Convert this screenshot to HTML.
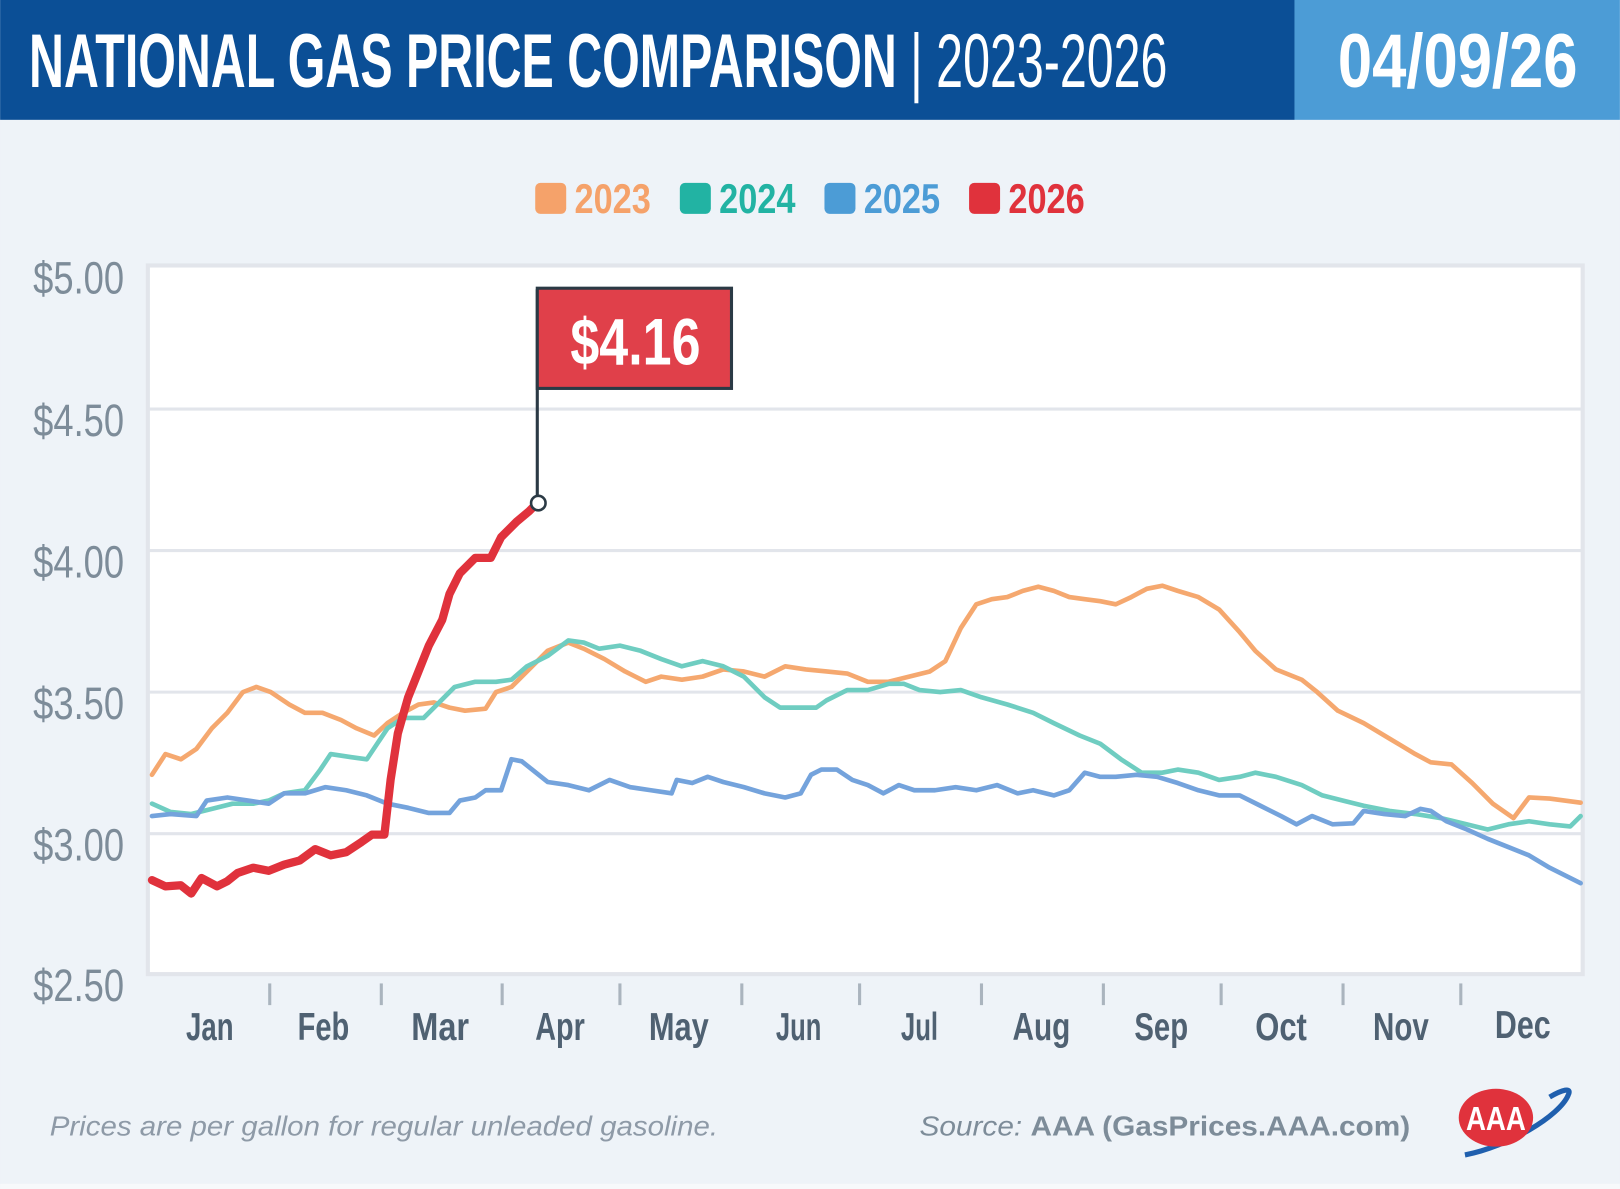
<!DOCTYPE html>
<html><head><meta charset="utf-8"><style>html,body{margin:0;padding:0;background:#eef3f8}svg{display:block}</style></head><body>
<svg width="1620" height="1189" viewBox="0 0 1568 1151" xmlns="http://www.w3.org/2000/svg" font-family="Liberation Sans, sans-serif">
<rect x="0" y="0" width="1568" height="1151" fill="#eef3f8"/>
<rect x="0" y="1146" width="1568" height="5" fill="#f7f9fb"/>
<rect x="0" y="0" width="1253" height="116" fill="#0b4f96"/>
<rect x="1253" y="0" width="315" height="116" fill="#4c9cd6"/>
<text x="28" y="84" font-size="74" fill="#fff" font-weight="bold" textLength="1102" lengthAdjust="spacingAndGlyphs">NATIONAL GAS PRICE COMPARISON <tspan font-weight="normal">| 2023-2026</tspan></text>
<text x="1295" y="84" font-size="74" fill="#fff" font-weight="bold" textLength="232" lengthAdjust="spacingAndGlyphs">04/09/26</text>
<g font-size="40" font-weight="bold">
<rect x="518" y="177" width="30" height="30" rx="5" fill="#f5a26a"/><text x="556" y="206" fill="#f5a26a" textLength="74" lengthAdjust="spacingAndGlyphs">2023</text>
<rect x="658" y="177" width="30" height="30" rx="5" fill="#22b3a3"/><text x="696" y="206" fill="#22b3a3" textLength="74" lengthAdjust="spacingAndGlyphs">2024</text>
<rect x="798" y="177" width="30" height="30" rx="5" fill="#4c9cd6"/><text x="836" y="206" fill="#4c9cd6" textLength="74" lengthAdjust="spacingAndGlyphs">2025</text>
<rect x="938" y="177" width="30" height="30" rx="5" fill="#e0323c"/><text x="976" y="206" fill="#e0323c" textLength="74" lengthAdjust="spacingAndGlyphs">2026</text>
</g>
<rect x="143" y="257" width="1389" height="686" fill="#fff" stroke="#e2e5eb" stroke-width="4"/>
<g stroke="#e2e5eb" stroke-width="3">
<line x1="143" y1="396" x2="1532" y2="396"/><line x1="143" y1="533" x2="1532" y2="533"/><line x1="143" y1="670" x2="1532" y2="670"/><line x1="143" y1="807" x2="1532" y2="807"/>
</g>
<g font-size="44" fill="#7d8c99" text-anchor="end">
<text x="120" y="284" textLength="88" lengthAdjust="spacingAndGlyphs">$5.00</text>
<text x="120" y="422" textLength="88" lengthAdjust="spacingAndGlyphs">$4.50</text>
<text x="120" y="559" textLength="88" lengthAdjust="spacingAndGlyphs">$4.00</text>
<text x="120" y="696" textLength="88" lengthAdjust="spacingAndGlyphs">$3.50</text>
<text x="120" y="833" textLength="88" lengthAdjust="spacingAndGlyphs">$3.00</text>
<text x="120" y="969" textLength="88" lengthAdjust="spacingAndGlyphs">$2.50</text>
</g>
<g stroke="#aab4be" stroke-width="3">
<line x1="261" y1="952" x2="261" y2="973"/><line x1="369" y1="952" x2="369" y2="973"/><line x1="486" y1="952" x2="486" y2="973"/><line x1="600" y1="952" x2="600" y2="973"/><line x1="718" y1="952" x2="718" y2="973"/><line x1="832" y1="952" x2="832" y2="973"/><line x1="950" y1="952" x2="950" y2="973"/><line x1="1068" y1="952" x2="1068" y2="973"/><line x1="1182" y1="952" x2="1182" y2="973"/><line x1="1300" y1="952" x2="1300" y2="973"/><line x1="1414" y1="952" x2="1414" y2="973"/>
</g>
<g font-size="38" font-weight="bold" fill="#4f6172" text-anchor="middle" lengthAdjust="spacingAndGlyphs">
<text x="203" y="1007" textLength="46" lengthAdjust="spacingAndGlyphs">Jan</text><text x="313" y="1007" textLength="50" lengthAdjust="spacingAndGlyphs">Feb</text><text x="426" y="1007" textLength="56" lengthAdjust="spacingAndGlyphs">Mar</text><text x="542" y="1007" textLength="48" lengthAdjust="spacingAndGlyphs">Apr</text><text x="657" y="1007" textLength="58" lengthAdjust="spacingAndGlyphs">May</text><text x="773" y="1007" textLength="44" lengthAdjust="spacingAndGlyphs">Jun</text><text x="890" y="1007" textLength="36" lengthAdjust="spacingAndGlyphs">Jul</text><text x="1008" y="1007" textLength="56" lengthAdjust="spacingAndGlyphs">Aug</text><text x="1124" y="1007" textLength="52" lengthAdjust="spacingAndGlyphs">Sep</text><text x="1240" y="1007" textLength="50" lengthAdjust="spacingAndGlyphs">Oct</text><text x="1356" y="1007" textLength="54" lengthAdjust="spacingAndGlyphs">Nov</text><text x="1474" y="1005" textLength="54" lengthAdjust="spacingAndGlyphs">Dec</text>
</g>
<g fill="none" stroke-linejoin="round" stroke-linecap="round">
<polyline stroke="#f5a86f" stroke-width="4.5" points="147,750 160,730 175,735 190,725 205,705 220,690 235,670 248,665 262,670 280,682 295,690 312,690 330,697 345,705 362,712 375,700 390,690 405,682 420,680 435,685 450,688 470,686 480,670 495,665 510,650 530,630 550,622 565,628 585,638 605,650 625,660 640,655 660,658 680,655 700,648 720,650 740,655 760,645 780,648 800,650 820,652 840,660 860,660 880,655 900,650 915,640 930,608 945,585 960,580 975,578 990,572 1005,568 1020,572 1035,578 1050,580 1065,582 1080,585 1095,578 1110,570 1125,567 1140,572 1160,578 1180,590 1200,612 1215,630 1235,648 1260,658 1275,670 1295,688 1320,700 1345,715 1370,730 1385,738 1405,740 1425,758 1445,778 1465,792 1480,772 1500,773 1530,777"/>
<polyline stroke="#6fcdc1" stroke-width="4.5" points="147,778 165,786 185,788 205,783 225,778 245,778 260,775 275,768 295,765 310,745 320,730 340,733 355,735 365,720 375,705 390,695 410,695 425,680 440,665 460,660 480,660 495,658 510,645 530,635 550,620 565,622 580,628 600,625 620,630 640,638 660,645 680,640 700,645 720,655 740,675 755,685 770,685 790,685 800,678 820,668 840,668 860,662 875,662 890,668 910,670 930,668 950,675 975,682 1000,690 1020,700 1045,712 1065,720 1085,735 1105,748 1125,748 1140,745 1160,748 1180,755 1200,752 1215,748 1235,752 1260,760 1280,770 1300,775 1320,780 1345,785 1370,788 1395,792 1420,798 1440,803 1460,798 1480,795 1500,798 1520,800 1530,790"/>
<polyline stroke="#74a3dc" stroke-width="4.5" points="147,790 165,788 190,790 200,775 220,772 240,775 260,778 275,768 295,768 315,762 335,765 355,770 375,778 395,782 415,787 435,787 445,775 460,772 470,765 485,765 495,735 505,737 515,745 530,757 550,760 570,765 590,755 610,762 630,765 650,768 655,755 670,758 685,752 700,757 720,762 740,768 760,772 775,768 785,750 795,745 810,745 825,755 840,760 855,768 870,760 885,765 905,765 925,762 945,765 965,760 985,768 1000,765 1020,770 1035,765 1050,748 1065,752 1080,752 1100,750 1120,752 1140,758 1160,765 1180,770 1200,770 1220,780 1240,790 1255,798 1270,790 1290,798 1310,797 1320,785 1340,788 1360,790 1375,783 1385,785 1400,795 1420,803 1440,812 1460,820 1480,828 1500,840 1530,855"/>
<polyline stroke="#e0323c" stroke-width="8" points="147,852 160,858 175,857 185,865 195,850 210,858 220,853 230,845 245,840 260,843 275,837 290,833 305,822 320,828 335,825 350,815 360,808 372,808 378,755 385,710 395,675 405,650 415,625 428,600 435,575 445,555 460,540 475,540 485,520 500,505 512,495 520,487"/>
</g>
<line x1="520" y1="280" x2="520" y2="487" stroke="#2b3a45" stroke-width="3"/>
<rect x="520" y="279" width="188" height="97" fill="#e0404a" stroke="#2b3a45" stroke-width="3"/>
<text x="615" y="353" font-size="64" font-weight="bold" fill="#fff" text-anchor="middle" textLength="126" lengthAdjust="spacingAndGlyphs">$4.16</text>
<circle cx="521" cy="487" r="7" fill="#fff" stroke="#2b3a45" stroke-width="2.5"/>
<text x="48" y="1099" font-size="27" font-style="italic" fill="#8e9aa7" textLength="647" lengthAdjust="spacingAndGlyphs">Prices are per gallon for regular unleaded gasoline.</text>
<text x="890" y="1099" font-size="27" fill="#7d8c99" textLength="475" lengthAdjust="spacingAndGlyphs"><tspan font-style="italic">Source: </tspan><tspan font-weight="bold">AAA (GasPrices.AAA.com)</tspan></text>
<path d="M1418,1118 C1460,1110 1510,1080 1518,1060 C1522,1052 1512,1055 1500,1062" fill="none" stroke="#1f5fae" stroke-width="5"/>
<ellipse cx="1448" cy="1082" rx="36" ry="28" fill="#e0323c"/>
<text x="1448" y="1094" font-size="32" font-weight="bold" fill="#fff" text-anchor="middle" textLength="58" lengthAdjust="spacingAndGlyphs">AAA</text>
</svg>
</body></html>
